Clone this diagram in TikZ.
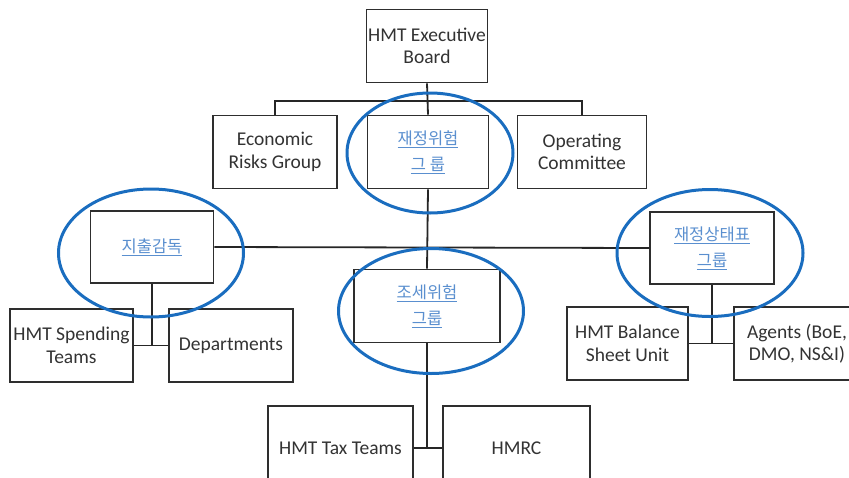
\documentclass[tikz,border=0pt]{standalone}
\usepackage{fontspec}
\usetikzlibrary{shapes.geometric}
\setmainfont{Carlito}
\newfontfamily\kofont{Noto Sans CJK KR}
\definecolor{ringblue}{HTML}{1A6DBF}
\definecolor{linkblue}{HTML}{5A8FCF}
\definecolor{boxline}{HTML}{2E2E2E}
\definecolor{txt}{HTML}{333333}
\newcommand{\kor}[1]{{\kofont\color{linkblue}\underline{#1}}}
\frenchspacing
\begin{document}
\begin{tikzpicture}[x=1pt,y=-1pt,
  orgbox/.style={draw=boxline,line width=1.9pt,fill=white,align=center,
    font=\fontsize{19.5}{22.5}\selectfont,text=txt,inner sep=0pt},
  korbox/.style={orgbox,font=\fontsize{16.5}{26}\selectfont},
  link/.style={draw=black!85,line width=1.8pt},
  ring/.style={draw=ringblue,line width=3pt,ellipse,inner sep=0pt}]
\useasboundingbox (0,0) rectangle (849,477);
\clip (0,0) rectangle (849,477);
% boxes
\node[orgbox,minimum width=121pt,minimum height=73pt] (exec) at (427,46) {HMT Executive\\Board};
\node[orgbox,minimum width=124pt,minimum height=73pt] (econ) at (275,152) {Economic\\Risks Group};
\node[korbox,minimum width=121pt,minimum height=73pt] (fin) at (428,152) {\kor{재정위험}\\\kor{그 룹}};
\node[orgbox,minimum width=129pt,minimum height=73pt] (ops) at (582,152) {Operating\\Committee};
\node[korbox,minimum width=123pt,minimum height=72pt] (spend) at (152,247) {\kor{지출감독}};
\node[korbox,minimum width=124pt,minimum height=72pt] (bal) at (712,248) {\kor{재정상태표}\\\kor{그룹}};
\node[korbox,minimum width=146pt,minimum height=73pt] (tax) at (427,306) {\kor{조세위험}\\\kor{그룹}};
\node[orgbox,minimum width=123pt,minimum height=73pt] (st) at (71.5,345.5) {HMT Spending\\Teams};
\node[orgbox,minimum width=124pt,minimum height=73pt] (dep) at (231,345.5) {Departments};
\node[orgbox,minimum width=121pt,minimum height=73pt] (bsu) at (627.5,343.5) {HMT Balance\\Sheet Unit};
\node[orgbox,minimum width=126pt,minimum height=73pt] (agt) at (797,343.5) {Agents (BoE,\\DMO, NS\&I)};
\node[orgbox,minimum width=145pt,minimum height=84pt] (htt) at (340.5,448) {HMT Tax Teams};
\node[orgbox,minimum width=147pt,minimum height=84pt] (hmrc) at (516.5,448) {HMRC};
% connectors
\coordinate (top) at (428,101);
\draw[link] (exec.south) -- (fin.north);
\draw[link] (econ.north) |- (top) -| (ops.north);
\draw[link] (fin.south) -- (tax.north);
\draw[link] (spend.east) -- (bal.west);
\draw[link] (spend.south) -- (spend.south |- st.east);
\draw[link] (st.east) -- (dep.west);
\draw[link] (bal.south) -- (bal.south |- bsu.east);
\draw[link] (bsu.east) -- (agt.west);
\draw[link] (tax.south) -- (tax.south |- htt.east);
\draw[link] (htt.east) -- (hmrc.west);
% rings
\node[ring,minimum width=166pt,minimum height=120pt] (r1) at (430,153) {};
\node[ring,minimum width=185pt,minimum height=128pt] (r2) at (151,253) {};
\node[ring,minimum width=186pt,minimum height=127pt] (r3) at (710,253) {};
\node[ring,minimum width=185pt,minimum height=125pt] (r4) at (431,311) {};
\end{tikzpicture}
\end{document}
